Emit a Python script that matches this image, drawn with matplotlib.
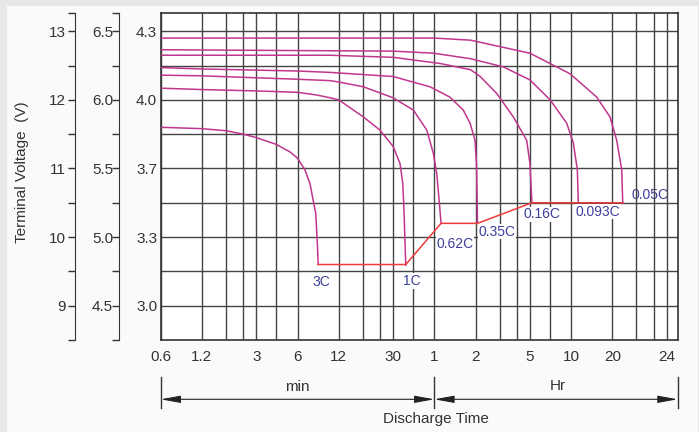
import numpy as np
import matplotlib.pyplot as plt
import matplotlib.transforms as mtransforms
from matplotlib.patches import Rectangle

plt.rcParams['font.family'] = ['Liberation Sans', 'DejaVu Sans']

# Courbes de décharge : temps en minutes, tension batterie 12 V
t_3c = [0.6, 1.2, 1.8, 2.4, 3, 4.2, 5.3, 6, 6.8, 7.4, 7.8, 8.15, 8.4, 8.5]
v_3c = [11.60, 11.58, 11.55, 11.50, 11.45, 11.35, 11.24, 11.15, 10.98, 10.78, 10.54, 10.35, 9.86, 9.60]

t_1c = [0.6, 1.2, 3, 6, 8.3, 10.4, 12, 18.2, 24, 30, 33.7, 35.3, 36, 37.1]
v_1c = [12.17, 12.15, 12.13, 12.11, 12.07, 12.03, 12.00, 11.75, 11.56, 11.32, 11.07, 10.78, 10.39, 9.59]

t_062 = [0.6, 1.2, 6, 10.4, 12, 18.2, 30, 42.2, 52.8, 59, 62.5, 66, 67.2]
v_062 = [12.36, 12.35, 12.30, 12.28, 12.26, 12.19, 12.03, 11.85, 11.56, 11.22, 10.93, 10.39, 10.20]

t_035 = [0.6, 1.2, 6, 10.4, 30, 55.8, 78, 97.7, 109.5, 119, 122, 123.5, 124]
v_035 = [12.47, 12.45, 12.42, 12.40, 12.34, 12.19, 12.04, 11.85, 11.66, 11.41, 11.07, 10.50, 10.20]

t_016 = [0.6, 10.4, 30, 66, 110, 130, 172, 227, 284, 300, 310]
v_016 = [12.65, 12.65, 12.62, 12.53, 12.44, 12.34, 12.09, 11.75, 11.41, 11.07, 10.50]

t_0093 = [0.6, 30, 59, 110, 192, 300, 421, 557, 623, 666, 677]
v_0093 = [12.73, 12.71, 12.68, 12.60, 12.48, 12.29, 12.00, 11.66, 11.37, 10.98, 10.50]

t_005 = [0.6, 60, 110, 300, 589, 923, 1155, 1292, 1406, 1430]
v_005 = [12.90, 12.90, 12.87, 12.68, 12.38, 12.04, 11.75, 11.41, 10.98, 10.50]

curves = [(t_3c, v_3c), (t_1c, v_1c), (t_062, v_062), (t_035, v_035),
          (t_016, v_016), (t_0093, v_0093), (t_005, v_005)]

# tension de fin de décharge
t_end = [8.5, 37.1, 67.2, 124, 310, 677, 1430]
v_end = [9.60, 9.60, 10.20, 10.20, 10.50, 10.50, 10.50]

# étiquettes des régimes
rate_labels = ['3C', '1C', '0.62C', '0.35C', '0.16C', '0.093C', '0.05C']
rate_t = [9.0, 41.4, 85, 171.5, 366, 939, 2265]
rate_v = [9.35, 9.36, 9.90, 10.08, 10.33, 10.37, 10.61]

# axe x
x_ticks = [0.6, 1.2, 3, 6, 12, 30, 60, 120, 300, 600, 1200, 3000]
x_labels = ['0.6', '1.2', '3', '6', '12', '30', '1', '2', '5', '10', '20', '24']
x_minor = [1.8, 2.4, 4.2, 18, 24, 42, 180, 240, 420, 1800, 2400]

# axes y
v12_ticks = [9, 10, 11, 12, 13]
cell_labels = ['3.0', '3.3', '3.7', '4.0', '4.3']
v6_ticks = [4.5, 5.0, 5.5, 6.0, 6.5]
y_grid = [9, 9.5, 10, 10.5, 11, 11.5, 12, 12.5, 13]

curve_col = '#c0368e'
end_col = '#ee3c3c'
txt_col = '#3d3f9c'
grid_col = '#444444'
fs = 11

fig = plt.figure(figsize=(6.99, 4.32), dpi=100, facecolor='#e6e7e9')
fig.add_artist(Rectangle((7 / 699, 0), 691 / 699, 426 / 432, transform=fig.transFigure,
                         facecolor='#fafafa', edgecolor='none', zorder=-5))

ax = fig.add_axes([160.7 / 699, 1 - 340 / 432, 516.9 / 699, 327.3 / 432])
ax.set_xscale('log')
ax.set_xlim(0.6, 3600)
ax.set_ylim(8.5, 13.27)

for x in x_ticks + x_minor:
    ax.axvline(x, color=grid_col, lw=1.0, zorder=1)
for y in y_grid:
    ax.axhline(y, color=grid_col, lw=1.0, zorder=1)

for t, v in curves:
    ax.plot(t, v, color=curve_col, lw=1.1, zorder=3)
ax.plot(t_end, v_end, color=end_col, lw=1.1, zorder=4)

for lab, t, v in zip(rate_labels, rate_t, rate_v):
    if lab == '0.05C':
        ax.text(t, v, lab, color=txt_col, fontsize=10, ha='center', va='center', zorder=0.5)
    else:
        ax.text(t, v, lab, color=txt_col, fontsize=10, ha='center', va='center', zorder=5,
                bbox=dict(facecolor='white', edgecolor='none', pad=0.5))

ax.set_xticks(x_ticks)
ax.set_xticklabels(x_labels)
ax.xaxis.set_minor_locator(plt.NullLocator())
ax.set_yticks(v12_ticks)
ax.set_yticklabels(cell_labels)
ax.tick_params(axis='both', length=0, labelsize=fs, colors='#333333')
ax.tick_params(axis='x', pad=7)
ax.tick_params(axis='y', pad=2.5)
for s in ax.spines.values():
    s.set_color('#333333')
    s.set_linewidth(1.2)

# axe 12 V
ax12 = ax.secondary_yaxis(-0.1664, functions=(lambda v: v, lambda v: v))
ax12.set_yticks(v12_ticks)
ax12.set_yticks([8.5, 9.5, 10.5, 11.5, 12.5, 13.27], minor=True)
ax12.tick_params(which='both', length=5, width=1, colors='#333333', labelsize=fs, pad=1.2)
ax12.spines['left'].set_color('#333333')

# axe 6 V
ax6 = ax.secondary_yaxis(-0.0801, functions=(lambda v: v / 2, lambda v: v * 2))
ax6.set_yticks(v6_ticks)
ax6.set_yticklabels(['%.1f' % v for v in v6_ticks])
ax6.set_yticks([4.25, 4.75, 5.25, 5.75, 6.25, 6.635], minor=True)
ax6.tick_params(which='both', length=5, width=1, colors='#333333', labelsize=fs, pad=-0.5)
ax6.spines['left'].set_color('#333333')

fig.text(22 / 699, 1 - 172 / 432, 'Terminal Voltage  (V)', rotation=90,
         ha='center', va='center', fontsize=fs, color='#333333')

# flèches min / Hr
trans = mtransforms.blended_transform_factory(ax.transData, fig.transFigure)
for x in [0.6, 60, 3600]:
    ax.plot([x, x], [1 - 376.7 / 432, 1 - 407.7 / 432], color='#333333', lw=1,
            transform=trans, clip_on=False)
y_arr = 1 - 399.3 / 432
for a, b in [(0.6, 60), (60, 3600)]:
    ax.annotate('', xy=(b, y_arr), xytext=(a, y_arr), xycoords=trans, textcoords=trans,
                arrowprops=dict(arrowstyle='<|-|>,head_length=1.2,head_width=0.22',
                                color='#222222', lw=0.8, shrinkA=0, shrinkB=0),
                annotation_clip=False)
ax.text(6, 1 - 386.7 / 432, 'min', transform=trans, ha='center', va='center',
        fontsize=fs, color='#333333')
ax.text(np.sqrt(60 * 3600) * 1.03, 1 - 386 / 432, 'Hr', transform=trans, ha='center',
        va='center', fontsize=fs, color='#333333')
fig.text(435.5 / 699, 1 - 419 / 432, 'Discharge Time', ha='center', va='center',
         fontsize=fs, color='#333333')

fig.savefig('out.png', dpi=100, facecolor=fig.get_facecolor())
